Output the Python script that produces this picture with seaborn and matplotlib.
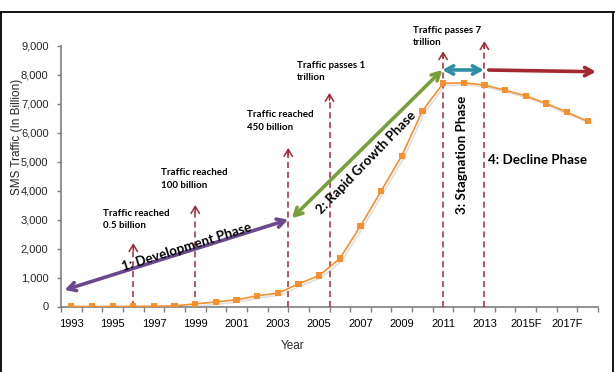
import matplotlib
matplotlib.use('Agg')
import matplotlib.pyplot as plt
import matplotlib.patheffects as pe
from matplotlib.lines import Line2D
import seaborn as sns
import pandas as pd
import numpy as np

# ---------------- data ----------------
years = list(range(1993, 2019))
traffic = [0, 0, 0, 5, 10, 20, 90, 160, 230, 370, 460, 780, 1070, 1655,
           2780, 3990, 5210, 6760, 7710, 7730, 7650, 7470, 7280, 7010, 6710, 6400]
tick_years = [1993, 1995, 1997, 1999, 2001, 2003, 2005, 2007, 2009, 2011, 2013, 2015, 2017]
tick_labels = ['1993', '1995', '1997', '1999', '2001', '2003', '2005', '2007',
               '2009', '2011', '2013', '2015F', '2017F']
y_ticks = [0, 1000, 2000, 3000, 4000, 5000, 6000, 7000, 8000, 9000]

event_x = [1996, 1999, 2003.5, 2005.5, 2011, 2013]
event_top = [2190, 3510, 5480, 7380, 8820, 9170]
event_text = ['Traffic reached\n0.5 billion', 'Traffic reached\n100 billion',
              'Traffic reached\n450 billion', 'Traffic passes 1\ntrillion',
              'Traffic passes 7\ntrillion']

phase_labels = ['1: Development Phase', '2: Rapid Growth Phase',
                '3: Stagnation Phase', '4: Decline Phase']

# ---------------- style ----------------
sns.set_style('white')
plt.rcParams['font.family'] = ['Liberation Sans', 'DejaVu Sans']

W, H = 615, 372
fig = plt.figure(figsize=(W / 100, H / 100), dpi=100)
ax = fig.add_axes([61 / W, (H - 306.5) / H, (598 - 61) / W, (306.5 - 46) / H])

def px(x, y):
    return x / W, 1 - y / H

df = pd.DataFrame({'Year': years, 'Traffic': traffic})
sns.lineplot(data=df, x='Year', y='Traffic', ax=ax, color='#F7902F',
             marker='s', markersize=4.5, markeredgewidth=0, linewidth=1.2, zorder=5)
for ln in ax.lines:
    ln.set_path_effects([pe.SimpleLineShadow(offset=(1.5, -1.5), shadow_color='#999999', alpha=0.3),
                         pe.Normal()])

ax.set_xlim(1992.5, 2018.5)
ax.set_ylim(0, 9000)
ax.set_xticks(tick_years)
ax.set_xticklabels(tick_labels)
ax.set_xticks(np.arange(1992.5, 2019, 1), minor=True)
ax.tick_params(axis='x', which='major', length=0, pad=9, labelsize=8, colors='black')
ax.tick_params(axis='x', which='minor', length=3.5, width=1, color='#7f7f7f', direction='out', bottom=True)
ax.set_yticks(y_ticks)
ax.set_yticklabels([f'{v:,}' for v in y_ticks])
ax.tick_params(axis='y', length=3, width=1, color='#7f7f7f', direction='out', pad=6, labelsize=8, left=True)
for s in ['top', 'right']:
    ax.spines[s].set_visible(False)
for s in ['left', 'bottom']:
    ax.spines[s].set_color('#7f7f7f')
    ax.spines[s].set_linewidth(1.2)
ax.set_xlabel('')
ax.set_ylabel('')
ax.grid(False)

fig.text(*px(17, 137), 'SMS Traffic (In Billion)', rotation=90, ha='center', va='center', fontsize=8.5)
fig.text(*px(293, 346), 'Year', ha='center', va='center', fontsize=8.5)

# ---------------- event markers ----------------
red = '#A0293A'
for x, top in zip(event_x, event_top):
    ax.plot([x, x], [0, top - 60], ls=(0, (4, 2.5)), color=red, lw=1.1, clip_on=False, zorder=3)
    ax.annotate('', xy=(x, top), xytext=(x, top - 250), annotation_clip=False,
                arrowprops=dict(arrowstyle='->,head_length=0.5,head_width=0.3', color=red,
                                lw=1.1, shrinkA=0, shrinkB=0))

text_pos = [(103, 219.5), (161, 179), (246.7, 121), (297, 71.3), (413, 36.3)]
for (x, y), t in zip(text_pos, event_text):
    fig.text(*px(x, y), t, ha='left', va='center', fontsize=7, fontweight='bold',
             family=['Lato', 'DejaVu Sans'], linespacing=1.45, color='black')

# ---------------- phase arrows ----------------
def arrow(a, b, color, style):
    ax.annotate('', xy=b, xytext=a, annotation_clip=False,
                arrowprops=dict(arrowstyle=style, color=color, lw=2.6,
                                shrinkA=0, shrinkB=0), zorder=6)

arrow((1992.67, 570), (2003.5, 3000), '#6A4A8C', '<->,head_length=0.55,head_width=0.3')
arrow((2003.68, 3050), (2010.96, 8172), '#77A03B', '<->,head_length=0.55,head_width=0.3')
arrow((2010.96, 8172), (2012.97, 8172), '#2F8EA3', '<->,head_length=0.55,head_width=0.3')
arrow((2013.21, 8170), (2018.4, 8110), '#A3282F', '->,head_length=0.55,head_width=0.3')

phase_pos = [((187, 247), 17.4), ((366, 163), 46), ((461.7, 155), 90), ((538, 160), 0)]
for ((x, y), rot), t in zip(phase_pos, phase_labels):
    fig.text(*px(x, y), t, ha='center', va='center', rotation=rot, rotation_mode='anchor',
             fontsize=9.6, fontweight='bold', family=['Lato', 'DejaVu Sans'], color='black')

# ---------------- frame ----------------
fig.add_artist(Line2D([0, 1], [1 - 11.5 / H] * 2, transform=fig.transFigure, color='black', lw=1.3))
fig.add_artist(Line2D([1 / W, 1 / W], [0, 1 - 11.5 / H], transform=fig.transFigure, color='black', lw=1.3))
fig.add_artist(Line2D([612.5 / W, 612.5 / W], [0, 1 - 11.5 / H], transform=fig.transFigure, color='black', lw=1.3))

fig.savefig('out.png', dpi=100)
